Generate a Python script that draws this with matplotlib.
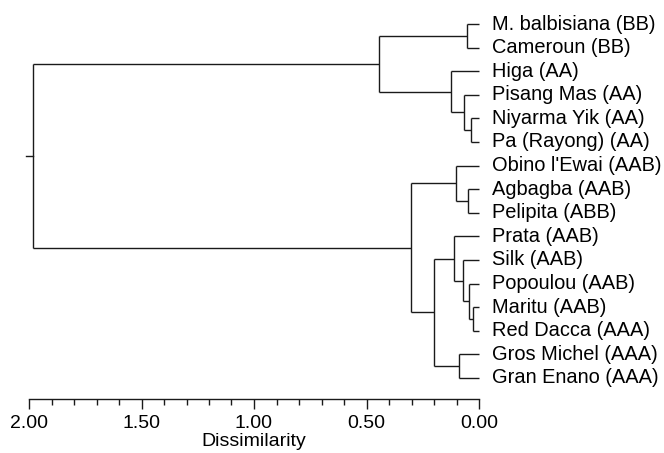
import matplotlib
matplotlib.use("Agg")
import matplotlib.pyplot as plt
from matplotlib.ticker import MultipleLocator, FormatStrFormatter

plt.rcParams['font.family'] = ['Liberation Sans', 'DejaVu Sans']

labels = ["M. balbisiana (BB)", "Cameroun (BB)", "Higa (AA)", "Pisang Mas (AA)",
          "Niyarma Yik (AA)", "Pa (Rayong) (AA)", "Obino l'Ewai (AAB)", "Agbagba (AAB)",
          "Pelipita (ABB)", "Prata (AAB)", "Silk (AAB)", "Popoulou (AAB)",
          "Maritu (AAB)", "Red Dacca (AAA)", "Gros Michel (AAA)", "Gran Enano (AAA)"]

# linkage-style merges: child a, child b, dissimilarity (new ids start at 16)
merge_a = [0, 4, 3, 2, 16, 7, 6, 12, 11, 10, 9, 14, 26, 22, 20]
merge_b = [1, 5, 17, 18, 19, 8, 21, 13, 23, 24, 25, 15, 27, 28, 29]
merge_h = [0.055, 0.036, 0.065, 0.126, 0.444, 0.048, 0.104, 0.025, 0.044,
           0.070, 0.110, 0.089, 0.200, 0.302, 1.982]
root_stub = 2.015

fig = plt.figure(figsize=(6.64, 4.53), dpi=100)
W, H = 664, 453
ax = fig.add_axes([29 / W, 54 / H, 450 / W, 399 / H])
n = len(labels)
ax.set_xlim(2.0, 0.0)
ax.set_ylim(15.89, -1.017)

pos = {i: float(i) for i in range(n)}
hgt = {i: 0.0 for i in range(n)}
lc = '#1a1a1a'
lw = 1.0
for k, (a, b, h) in enumerate(zip(merge_a, merge_b, merge_h)):
    nid = n + k
    ya, yb = pos[a], pos[b]
    ax.plot([hgt[a], h], [ya, ya], color=lc, lw=lw, clip_on=False, solid_capstyle='butt')
    ax.plot([hgt[b], h], [yb, yb], color=lc, lw=lw, clip_on=False, solid_capstyle='butt')
    ax.plot([h, h], [ya, yb], color=lc, lw=lw, clip_on=False, solid_capstyle='butt')
    pos[nid] = (ya + yb) / 2
    hgt[nid] = h
root = n + len(merge_h) - 1
ax.plot([hgt[root], root_stub], [pos[root], pos[root]], color=lc, lw=lw, clip_on=False)

for i, lab in enumerate(labels):
    ax.text(-13 / 225, i, lab, ha='left', va='center', fontsize=14.4, color='black')

for s in ['top', 'right', 'left']:
    ax.spines[s].set_visible(False)
ax.spines['bottom'].set_color(lc)
ax.spines['bottom'].set_linewidth(1.0)
ax.set_yticks([])
ax.xaxis.set_major_locator(MultipleLocator(0.5))
ax.xaxis.set_minor_locator(MultipleLocator(0.1))
ax.xaxis.set_major_formatter(FormatStrFormatter('%.2f'))
ax.tick_params(axis='x', which='major', length=7, width=1.0, color=lc, labelsize=14, pad=4.5)
ax.tick_params(axis='x', which='minor', length=4, width=1.0, color=lc)
ax.set_xlabel('Dissimilarity', fontsize=14, labelpad=0.5)

fig.savefig('out.png', dpi=100)
